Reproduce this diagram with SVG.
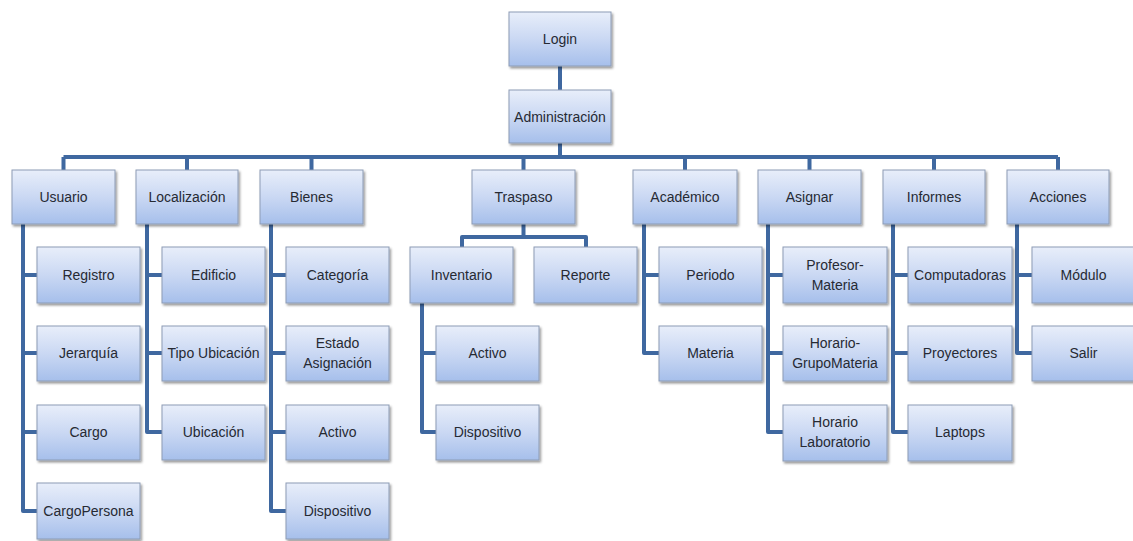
<svg xmlns="http://www.w3.org/2000/svg" width="1133" height="541" viewBox="0 0 1133 541">
  <defs>
    <linearGradient id="boxFill" x1="0" y1="0" x2="0" y2="1">
      <stop offset="0" stop-color="#e8eefa"/>
      <stop offset="0.5" stop-color="#cad8f3"/>
      <stop offset="1" stop-color="#a6bfeb"/>
    </linearGradient>
    <filter id="shadow" x="-10%" y="-10%" width="125%" height="130%">
      <feDropShadow dx="1.5" dy="2" stdDeviation="1.2" flood-color="#000" flood-opacity="0.4"/>
    </filter>
  </defs>
  <style>
    .box { fill: url(#boxFill); stroke: #8d9cb5; stroke-width: 1; filter: url(#shadow); }
    .lbl { font-family: "Liberation Sans", Arial, sans-serif; font-size: 14px; fill: #262a33; text-anchor: middle; dominant-baseline: central; }
    .wire { fill: none; stroke: #3f68a0; stroke-width: 4; stroke-linejoin: round; }
  </style>
  <rect width="1133" height="541" fill="#ffffff"/>

  <g id="connectors">
    <!-- trunk -->
    <path class="wire" d="M560,66 V90 M560,143 V157"/>
    <path class="wire" d="M63.5,157 H1058"/>
    <path class="wire" d="M63.5,157 V170 M187,157 V170 M311.5,157 V170 M523.5,157 V170 M685,157 V170 M809.5,157 V170 M934,157 V170 M1058,157 V170"/>
    <!-- Usuario -->
    <path class="wire" d="M23,224 V511 H37 M23,275 H37 M23,353 H37 M23,432 H37"/>
    <!-- Localización -->
    <path class="wire" d="M147,224 V432 H162 M147,275 H162 M147,353 H162"/>
    <!-- Bienes -->
    <path class="wire" d="M271,224 V511 H286 M271,275 H286 M271,353 H286 M271,432 H286"/>
    <!-- Traspaso -->
    <path class="wire" d="M523.5,224 V237 M462,247 V237 H586 V247"/>
    <path class="wire" d="M422,303 V432 H436 M422,353 H436"/>
    <!-- Académico -->
    <path class="wire" d="M644,224 V353 H659 M644,275 H659"/>
    <!-- Asignar -->
    <path class="wire" d="M768,224 V432 H783 M768,275 H783 M768,353 H783"/>
    <!-- Informes -->
    <path class="wire" d="M893,224 V432 H908 M893,275 H908 M893,353 H908"/>
    <!-- Acciones -->
    <path class="wire" d="M1017,224 V353 H1032 M1017,275 H1032"/>
  </g>

  <g id="login"><rect class="box" x="509" y="12" width="102" height="54"/><text class="lbl" x="560" y="39">Login</text></g>
  <g id="administracion"><rect class="box" x="509" y="90" width="102" height="53"/><text class="lbl" x="560" y="117">Administración</text></g>

  <g id="usuario"><rect class="box" x="12" y="170" width="103" height="54"/><text class="lbl" x="63.5" y="197">Usuario</text></g>
  <g id="localizacion"><rect class="box" x="136" y="170" width="102" height="54"/><text class="lbl" x="187" y="197">Localización</text></g>
  <g id="bienes"><rect class="box" x="260" y="170" width="103" height="54"/><text class="lbl" x="311.5" y="197">Bienes</text></g>
  <g id="traspaso"><rect class="box" x="472" y="170" width="103" height="54"/><text class="lbl" x="523.5" y="197">Traspaso</text></g>
  <g id="academico"><rect class="box" x="633" y="170" width="104" height="54"/><text class="lbl" x="685" y="197">Académico</text></g>
  <g id="asignar"><rect class="box" x="758" y="170" width="103" height="54"/><text class="lbl" x="809.5" y="197">Asignar</text></g>
  <g id="informes"><rect class="box" x="883" y="170" width="102" height="54"/><text class="lbl" x="934" y="197">Informes</text></g>
  <g id="acciones"><rect class="box" x="1007" y="170" width="102" height="54"/><text class="lbl" x="1058" y="197">Acciones</text></g>

  <!-- Usuario children -->
  <g id="registro"><rect class="box" x="37" y="247" width="103" height="56"/><text class="lbl" x="88.5" y="275">Registro</text></g>
  <g id="jerarquia"><rect class="box" x="37" y="326" width="103" height="55"/><text class="lbl" x="88.5" y="353">Jerarquía</text></g>
  <g id="cargo"><rect class="box" x="37" y="405" width="103" height="55"/><text class="lbl" x="88.5" y="432">Cargo</text></g>
  <g id="cargopersona"><rect class="box" x="37" y="483" width="103" height="56"/><text class="lbl" x="88.5" y="511">CargoPersona</text></g>

  <!-- Localización children -->
  <g id="edificio"><rect class="box" x="162" y="247" width="103" height="56"/><text class="lbl" x="213.5" y="275">Edificio</text></g>
  <g id="tipoubicacion"><rect class="box" x="162" y="326" width="103" height="55"/><text class="lbl" x="213.5" y="353">Tipo Ubicación</text></g>
  <g id="ubicacion"><rect class="box" x="162" y="405" width="103" height="55"/><text class="lbl" x="213.5" y="432">Ubicación</text></g>

  <!-- Bienes children -->
  <g id="categoria"><rect class="box" x="286" y="247" width="103" height="56"/><text class="lbl" x="337.5" y="275">Categoría</text></g>
  <g id="estadoasignacion"><rect class="box" x="286" y="326" width="103" height="55"/><text class="lbl" x="337.5" y="343">Estado</text><text class="lbl" x="337.5" y="363">Asignación</text></g>
  <g id="bienes-activo"><rect class="box" x="286" y="405" width="103" height="55"/><text class="lbl" x="337.5" y="432">Activo</text></g>
  <g id="bienes-dispositivo"><rect class="box" x="286" y="483" width="103" height="56"/><text class="lbl" x="337.5" y="511">Dispositivo</text></g>

  <!-- Traspaso children -->
  <g id="inventario"><rect class="box" x="410" y="247" width="103" height="56"/><text class="lbl" x="461.5" y="275">Inventario</text></g>
  <g id="reporte"><rect class="box" x="534" y="247" width="103" height="56"/><text class="lbl" x="585.5" y="275">Reporte</text></g>
  <g id="inv-activo"><rect class="box" x="436" y="326" width="103" height="55"/><text class="lbl" x="487.5" y="353">Activo</text></g>
  <g id="inv-dispositivo"><rect class="box" x="436" y="405" width="103" height="55"/><text class="lbl" x="487.5" y="432">Dispositivo</text></g>

  <!-- Académico children -->
  <g id="periodo"><rect class="box" x="659" y="247" width="103" height="56"/><text class="lbl" x="710.5" y="275">Periodo</text></g>
  <g id="materia"><rect class="box" x="659" y="326" width="103" height="55"/><text class="lbl" x="710.5" y="353">Materia</text></g>

  <!-- Asignar children -->
  <g id="profesormateria"><rect class="box" x="783" y="247" width="104" height="56"/><text class="lbl" x="835" y="265">Profesor-</text><text class="lbl" x="835" y="285">Materia</text></g>
  <g id="horariogrupomateria"><rect class="box" x="783" y="326" width="104" height="55"/><text class="lbl" x="835" y="343">Horario-</text><text class="lbl" x="835" y="363">GrupoMateria</text></g>
  <g id="horariolaboratorio"><rect class="box" x="783" y="405" width="104" height="56"/><text class="lbl" x="835" y="422">Horario</text><text class="lbl" x="835" y="442">Laboratorio</text></g>

  <!-- Informes children -->
  <g id="computadoras"><rect class="box" x="908" y="247" width="104" height="56"/><text class="lbl" x="960" y="275">Computadoras</text></g>
  <g id="proyectores"><rect class="box" x="908" y="326" width="104" height="55"/><text class="lbl" x="960" y="353">Proyectores</text></g>
  <g id="laptops"><rect class="box" x="908" y="405" width="104" height="56"/><text class="lbl" x="960" y="432">Laptops</text></g>

  <!-- Acciones children -->
  <g id="modulo"><rect class="box" x="1032" y="247" width="103" height="56"/><text class="lbl" x="1083.5" y="275">Módulo</text></g>
  <g id="salir"><rect class="box" x="1032" y="326" width="103" height="55"/><text class="lbl" x="1083.5" y="353">Salir</text></g>
</svg>
